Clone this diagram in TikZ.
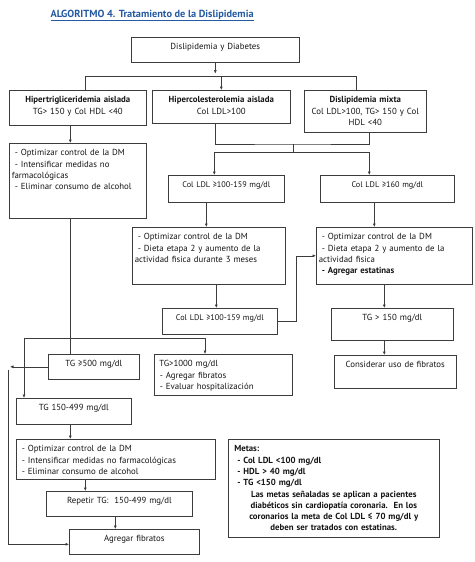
\documentclass[tikz,border=0pt]{standalone}
\usepackage{fontspec}
\setmainfont{PT Sans}
\usetikzlibrary{arrows.meta}
\definecolor{linec}{RGB}{60,60,60}
\definecolor{textc}{RGB}{20,20,20}
\definecolor{titc}{RGB}{35,90,160}
\newcommand{\guion}{\hspace*{3pt}-\ }

\begin{document}
\begin{tikzpicture}[x=1pt, y=-1pt,
  box/.style={draw=linec, line width=0.6pt, anchor=north west, inner xsep=2.5pt, inner ysep=0pt,
    text height=12.5pt, text=textc, font=\fontsize{8.8}{11.3}\selectfont},
  chico/.style={font=\fontsize{8.2}{10}\selectfont},
  arr/.style={draw=linec, line width=0.6pt, -{Latex[length=3.5pt,width=3pt]}},
  lin/.style={draw=linec, line width=0.6pt}]
\useasboundingbox (0,0) rectangle (474,562);

\node [anchor=base west, text=titc, font=\fontsize{10.3}{12}\selectfont\bfseries] (titulo) at (47,17) {\underline{ALGORITMO 4. Tratamiento de la Dislipidemia}};

% fila de arriba
\node [box, text width=163, text depth=12.5, align=center] (dx) at (131,37) {Dislipidemia y Diabetes};
\node [box, text width=132, text depth=22.5, align=center] (hta) at (9,90) {\textbf{Hipertrigliceridemia aislada}\\TG> 150 y Col HDL <40};
\node [box, text width=133, text depth=20.5, align=center] (hca) at (152,90) {\textbf{Hipercolesterolemia aislada}\\Col LDL>100};
\node [box, text width=117, text depth=29.5, align=center] (dmx) at (304,90) {\textbf{Dislipidemia mixta}\\Col LDL>100, TG> 150 y Col\\HDL <40};

\node [box, text width=132, text depth=62.5, align=left] (opt1) at (9,143) {\guion Optimizar control de la DM\\\guion Intensificar medidas no\\farmacológicas\\\guion Eliminar consumo de alcohol};
\node [box, chico, text width=111, text depth=14.5, align=center] (ldl1) at (168,175) {Col LDL ≥100-159 mg/dl};
\node [box, chico, text width=129, text depth=14.5, align=center] (ldl2) at (320,175) {Col LDL ≥160 mg/dl};
\node [box, text width=148, text depth=44.5, align=left] (opt2) at (132,227) {\guion Optimizar control de la DM\\\guion Dieta etapa 2 y aumento de la\\actividad fisica durante 3 meses};
\node [box, text width=151, text depth=44.5, align=left] (opt3) at (316,227) {\guion Optimizar control de la DM\\\guion Dieta etapa 2 y aumento de la\\actividad fisica\\\textbf{\guion Agregar estatinas}};
\node [box, chico, text width=110, text depth=13.5, align=center] (ldl3) at (162,308) {Col LDL ≥100-159 mg/dl};
\node [box, text width=117, text depth=19.5, align=center] (tg150) at (331,308) {TG > 150 mg/dl};
\node [box, text width=117, text depth=20.5, align=center] (fib) at (334,355) {Considerar uso de fibratos};

% rama izquierda
\node [box, text width=86, text depth=12.5, align=center] (tg500) at (48,354) {TG ≥500 mg/dl};
\node [box, text width=133, text depth=28.5, align=left] (tg1000) at (154,354) {\hspace*{2.5pt}TG>1000 mg/dl\\\guion Agregar fibratos\\\guion Evaluar hospitalización};
\node [box, text width=110, text depth=13.5, align=center] (tg499) at (16,398) {TG 150-499 mg/dl};
\node [box, text width=194, text depth=27.5, align=left] (opt4) at (16,439) {\guion Optimizar control de la DM\\\guion Intensificar medidas no farmacológicas\\\guion Eliminar consumo de alcohol};
\node [box, text width=141, text depth=12.5, align=center] (rep) at (46,491) {Repetir TG:\ \ 150-499 mg/dl};
\node [box, text width=125, text depth=12.5, align=center] (agf) at (69,529) {Agregar fibratos};

\node [box, inner xsep=6pt, text width=199, text depth=85.5] (metas) at (228,439) {\bfseries\raggedright Metas:\\\guion Col LDL <100 mg/dl\\\guion HDL > 40 mg/dl\\\guion TG <150 mg/dl\par
  \centering Las metas señaladas se aplican a pacientes\\diabéticos sin cardiopatía coronaria.\ \ En los\\coronarios la meta de Col LDL ≤ 70 mg/dl y\\deben ser tratados con estatinas.\par};

% conectores
\coordinate (bus1) at (85,76);
\coordinate (bus2) at (356,76);
\draw [arr] (dx.south) -- ++(0,11);
\draw [lin] (hta.north -| bus1) -- (bus1) -- (bus2) -- (dmx.north -| bus2);
\draw [arr] (hca.north |- bus1) -- (hca.north);
\draw [arr] ([xshift=-7.5]hta.south) -- ([xshift=-7.5]opt1.north);

\coordinate (bus3) at (293,144);
\coordinate (bus4) at (293,152);
\draw [lin] ([xshift=-6]hca.south) |- (bus3) -| ([xshift=4]dmx.south);
\draw [lin] (bus3) -- (bus4);
\draw [arr] (bus4) -| ([xshift=-12]ldl1.north);
\draw [arr] (bus4) -| ([xshift=-18]ldl2.north);
\draw [arr] ([xshift=-20]ldl1.south) -- ([xshift=-20]ldl1.south |- opt2.north);
\draw [arr] ([xshift=-13]ldl2.south) -- ([xshift=-13]ldl2.south |- opt3.north);
\draw [arr] ([xshift=7.5]opt2.south) -- ([xshift=7.5]opt2.south |- ldl3.north);
\draw [arr] (ldl3.east) -- ++(19,0) |- (opt3.west);
\draw [arr] ([xshift=-10]opt3.south) -- ([xshift=-10]opt3.south |- tg150.north);
\draw [arr] ([xshift=-8]tg150.south) -- ([xshift=-8]tg150.south |- fib.north);

\coordinate (spl) at (24,338);
\coordinate (spr) at (205,338);
\coordinate (bajo) at (8,370);
\draw [lin] ([xshift=-7.5]opt1.south) -- ([xshift=-7.5]opt1.south |- tg500.north);
\draw [arr] (spl) -- (spr) -- (spr |- tg1000.north);
\draw [arr] (spl) -- (spl |- tg499.north);
\draw [arr] (tg500.west) -- ++(-38,0);
\draw [arr] (bajo) |- ([yshift=-2.5]agf.west);
\draw [arr] ([xshift=-3.5]tg499.south) -- ([xshift=-3.5]tg499.south |- opt4.north);
\draw [arr] ([xshift=-30.5]opt4.south) -- ([xshift=-30.5]opt4.south |- rep.north);
\draw [arr] ([xshift=-4]rep.south) -- ([xshift=-4]rep.south |- agf.north);

\end{tikzpicture}
\end{document}
